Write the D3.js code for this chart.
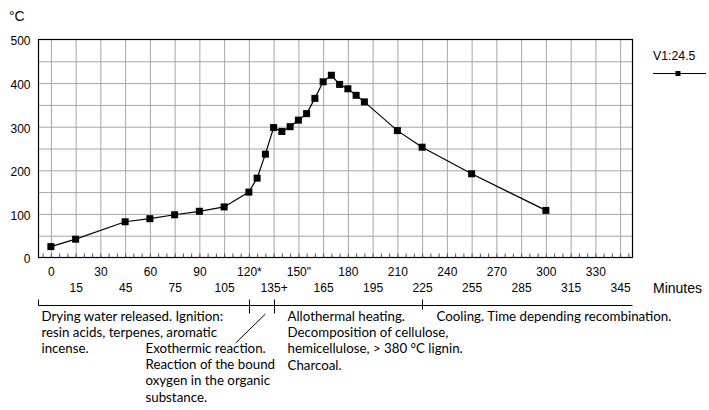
<!DOCTYPE html>
<html>
<head>
<meta charset="utf-8">
<script src="https://cdn.jsdelivr.net/npm/d3@7"></script>
<style>
  body { margin: 0; background: #fff; }
  svg { display: block; }
  .tick text { font-family: "Liberation Sans", Arial, sans-serif; }
  .note { font-family: Lato, "Open Sans", sans-serif; font-size: 13.3px; fill: #000; }
</style>
</head>
<body>
<div id="adiv"></div>
<script>

// data (minutes, °C)
var minutes = [0, 15, 45, 60, 75, 90, 105, 120, 125, 130, 135, 140, 145, 150, 155, 160, 165, 170, 175, 180, 185, 190, 210, 225, 255, 300];
var temps   = [25, 42, 82, 89, 98, 106, 116, 150, 182, 237, 298, 289, 300, 315, 330, 365, 403, 418, 397, 387, 372, 357, 291, 253, 192, 108];

var seriesName = "V1:24.5";

// tick labels, two staggered rows
var topRowTicks    = ["0", "30", "60", "90", "120*", "150\"", "180", "210", "240", "270", "300", "330"];
var bottomRowTicks = ["15", "45", "75", "105", "135+", "165", "195", "225", "255", "285", "315", "345"];
var yTicks = [0, 100, 200, 300, 400, 500];

// phase bands below the chart
var phaseBounds = [120, 135, 225];
var phaseTexts = [
  ["Drying water released. Ignition:", "resin acids, terpenes, aromatic", "incense."],
  ["Exothermic reaction.", "Reaction of the bound", "oxygen in the organic", "substance."],
  ["Allothermal heating.", "Decomposition of cellulose,", "hemicellulose, > 380 °C lignin.", "Charcoal."],
  ["Cooling. Time depending recombination."]
];

var margin = {top: 39.5, right: 76.5, bottom: 152.5, left: 38.5},
    width = 709 - margin.left - margin.right,
    height = 410 - margin.top - margin.bottom;

var svg = d3.select("#adiv")
  .append("svg")
    .attr("width", 709)
    .attr("height", 410);

var g = svg.append("g")
    .attr("transform", "translate(" + margin.left + "," + margin.top + ")");

var x = d3.scaleLinear()
    .domain([-7.5, 352.5])
    .range([0, width]);

var y = d3.scaleLinear()
    .domain([0, 500])
    .range([height, 0]);

// grid
g.append("g")
  .attr("class", "grid")
  .call(d3.axisLeft(y).tickValues(d3.range(50, 500, 50)).tickSize(-width).tickFormat(""))
  .call(s => s.select(".domain").remove())
  .call(s => s.selectAll("line").attr("stroke", "#a6a6a6"));

g.append("g")
  .attr("class", "grid")
  .attr("transform", "translate(0," + height + ")")
  .call(d3.axisBottom(x).tickValues(d3.range(0, 346, 15)).tickSize(-height).tickFormat(""))
  .call(s => s.select(".domain").remove())
  .call(s => s.selectAll("line").attr("stroke", "#a6a6a6"));

// minor ticks every 5 minutes
g.append("g")
  .attr("transform", "translate(0," + height + ")")
  .call(d3.axisBottom(x).tickValues(d3.range(-5, 352, 5)).tickSize(-4).tickFormat(""))
  .call(s => s.select(".domain").remove())
  .call(s => s.selectAll("line").attr("stroke", "#555"));

// frame
g.append("rect")
  .attr("width", width)
  .attr("height", height)
  .attr("fill", "none")
  .attr("stroke", "#000")
  .attr("stroke-width", 1.2);

// y axis labels
g.append("g")
  .call(d3.axisLeft(y).tickValues(yTicks).tickSize(0).tickPadding(8).tickFormat(d3.format("d")))
  .call(s => s.select(".domain").remove())
  .call(s => s.selectAll("text").attr("font-size", 12).attr("fill", "#000").attr("dy", "0.45em"));

// x axis labels, two rows
g.append("g")
  .attr("transform", "translate(0," + height + ")")
  .call(d3.axisBottom(x).tickValues(topRowTicks.map(parseFloat)).tickSize(0).tickPadding(10)
        .tickFormat((d, i) => topRowTicks[i]))
  .call(s => s.select(".domain").remove())
  .call(s => s.selectAll("text").attr("font-size", 12).attr("fill", "#000"));

g.append("g")
  .attr("transform", "translate(0," + height + ")")
  .call(d3.axisBottom(x).tickValues(bottomRowTicks.map(parseFloat)).tickSize(0).tickPadding(26)
        .tickFormat((d, i) => bottomRowTicks[i]))
  .call(s => s.select(".domain").remove())
  .call(s => s.selectAll("text").attr("font-size", 12).attr("fill", "#000"));

// unit labels
svg.append("text")
  .attr("x", 9).attr("y", 21)
  .attr("font-family", "Liberation Sans, Arial, sans-serif")
  .attr("font-size", 14)
  .text("°C");

svg.append("text")
  .attr("x", 653).attr("y", 293)
  .attr("font-family", "Liberation Sans, Arial, sans-serif")
  .attr("font-size", 14)
  .text("Minutes");

// line + markers
var pts = minutes.map((m, i) => ({t: m, v: temps[i]}));

g.append("path")
  .datum(pts)
  .attr("fill", "none")
  .attr("stroke", "#000")
  .attr("stroke-width", 1.2)
  .attr("d", d3.line()
    .x(function(d){ return x(d.t) })
    .y(function(d){ return y(d.v) }));

g.selectAll("rect.pt")
  .data(pts)
  .enter()
  .append("rect")
    .attr("class", "pt")
    .attr("x", d => x(d.t) - 3.5)
    .attr("y", d => y(d.v) - 3.5)
    .attr("width", 7)
    .attr("height", 7)
    .attr("fill", "#000");

// legend
var lg = svg.append("g").attr("transform", "translate(653,0)");
lg.append("text")
  .attr("x", 0).attr("y", 59.5)
  .attr("font-family", "Liberation Sans, Arial, sans-serif")
  .attr("font-size", 12.3)
  .text(seriesName);
lg.append("line")
  .attr("x1", 0).attr("x2", 53)
  .attr("y1", 73.5).attr("y2", 73.5)
  .attr("stroke", "#000");
lg.append("rect")
  .attr("x", 22.5).attr("y", 71).attr("width", 5).attr("height", 5)
  .attr("fill", "#000");

// phase bar
var py = 305.5;
var ph = svg.append("g").attr("stroke", "#000").attr("stroke-width", 1);
ph.append("line")
  .attr("x1", margin.left).attr("x2", margin.left + width)
  .attr("y1", py).attr("y2", py);
ph.append("line")
  .attr("x1", margin.left).attr("x2", margin.left)
  .attr("y1", py - 6).attr("y2", py);
ph.selectAll("line.b")
  .data(phaseBounds)
  .enter()
  .append("line")
    .attr("class", "b")
    .attr("x1", d => Math.round(margin.left + x(d)) + 0.5)
    .attr("x2", d => Math.round(margin.left + x(d)) + 0.5)
    .attr("y1", py - 6)
    .attr("y2", (d, i) => i < 2 ? py + 8 : py + 4);

// pointer to the exothermic note
ph.append("line")
  .attr("x1", margin.left + x(130)).attr("y1", 314)
  .attr("x2", margin.left + x(112)).attr("y2", 343);

var notePos = [
  {x: 41.5, y: 321},
  {x: 145.5, y: 353},
  {x: 287.5, y: 321},
  {x: 436.5, y: 321}
];

phaseTexts.forEach(function(lines, i) {
  svg.append("text")
    .attr("class", "note")
    .attr("x", notePos[i].x)
    .attr("y", notePos[i].y)
    .selectAll("tspan")
    .data(lines)
    .enter()
    .append("tspan")
      .attr("x", notePos[i].x)
      .attr("dy", (d, j) => j === 0 ? 0 : 16.2)
      .text(d => d);
});

</script>
</body>
</html>
